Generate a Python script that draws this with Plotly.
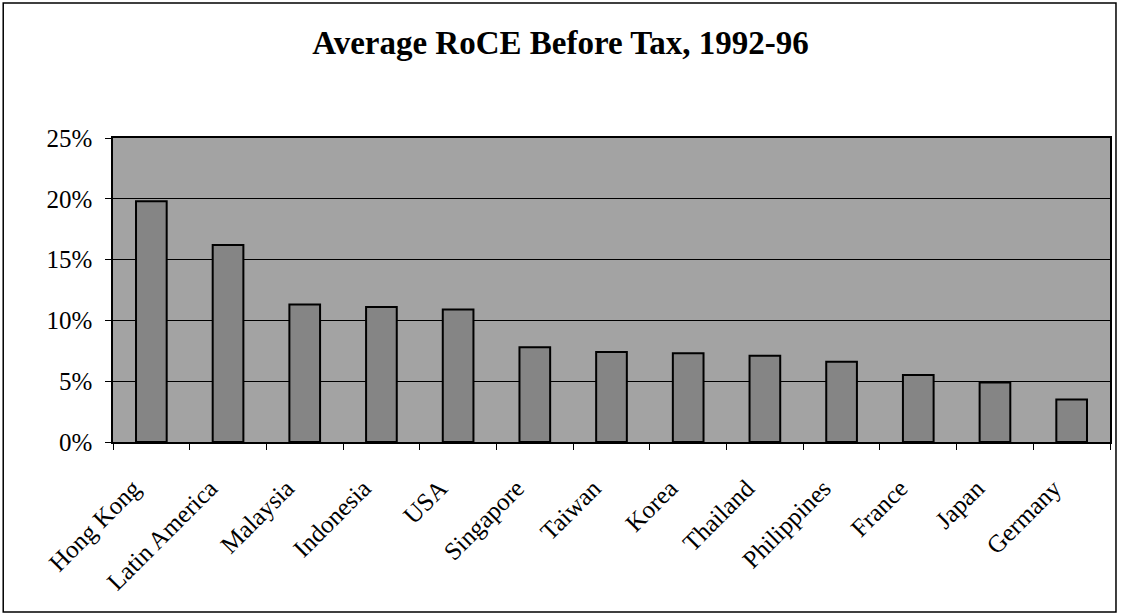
import plotly.graph_objects as go

categories = ["Hong Kong", "Latin America", "Malaysia", "Indonesia", "USA", "Singapore",
              "Taiwan", "Korea", "Thailand", "Philippines", "France", "Japan", "Germany"]
roce = [0.198, 0.162, 0.113, 0.111, 0.109, 0.078, 0.074, 0.073, 0.071, 0.066, 0.055, 0.049, 0.035]
y_ticks = [0, 0.05, 0.10, 0.15, 0.20, 0.25]
y_tick_labels = ["0%", "5%", "10%", "15%", "20%", "25%"]

W, H = 1121, 615
L, R, T, B = 113, 9, 138, 173
pw, ph = W - L - R, H - T - B

FONT = "Liberation Serif, Times New Roman, serif"

fig = go.Figure(go.Bar(
    x=categories, y=roce,
    marker=dict(color="#858585", line=dict(color="black", width=2)),
    width=0.4,
))

# outer chart border in pixel-derived paper coords
bx0, bx1, by0, by1 = 3, 1118, 3, 612
fig.add_shape(type="rect", xref="paper", yref="paper",
              x0=(bx0 - L) / pw, x1=(bx1 - L) / pw,
              y0=(H - B - by1) / ph, y1=(H - B - by0) / ph,
              line=dict(color="black", width=1.5), layer="below")

fig.update_layout(
    width=W, height=H,
    margin=dict(l=L, r=R, t=T, b=B),
    paper_bgcolor="white",
    plot_bgcolor="#a3a3a3",
    showlegend=False,
    title=dict(text="<b>Average RoCE Before Tax, 1992-96</b>", x=0.5, xref="container",
               y=1 - 42 / H, yanchor="middle",
               font=dict(family=FONT, size=33, color="black")),
    font=dict(family=FONT, color="black"),
)
fig.update_xaxes(
    type="category", showline=True, linecolor="black", linewidth=1.5, mirror=True,
    ticks="outside", tickson="boundaries", ticklen=6, tickcolor="black",
    tickangle=-45, tickfont=dict(family=FONT, size=25, color="black"),
    ticklabelstandoff=20, ticklabelshift=-18,
    showgrid=False,
)
fig.update_yaxes(
    range=[0, 0.25], tickvals=y_ticks, ticktext=y_tick_labels,
    showline=True, linecolor="black", linewidth=1.5, mirror=True,
    ticks="outside", ticklen=6, tickcolor="black",
    showgrid=True, gridcolor="black", gridwidth=1, zeroline=False,
    tickfont=dict(family=FONT, size=25, color="black"),
    ticklabelstandoff=8,
)

fig.write_html("out.html")
